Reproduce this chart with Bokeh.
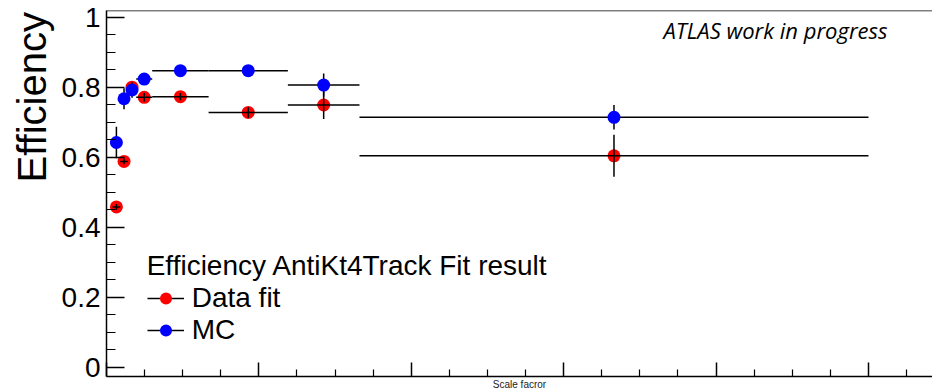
import numpy as np
from bokeh.plotting import figure
from bokeh.models import (Range1d, FixedTicker, CustomJSTickFormatter, Label,
                          Legend, LegendItem, Span, ColumnDataSource, Title)
from bokeh.embed import file_html
from bokeh.resources import INLINE

# ---- data ----
bin_lo = [4.0, 9.0, 14.0, 19.5, 30.0, 67.0, 119.0, 166.0]
bin_hi = [9.0, 14.0, 19.5, 30.0, 67.0, 119.0, 166.0, 500.0]
data_eff = [0.458, 0.588, 0.800, 0.771, 0.773, 0.728, 0.749, 0.604]
data_err = [0.008, 0.008, 0.010, 0.012, 0.010, 0.015, 0.040, 0.060]
mc_eff = [0.642, 0.767, 0.792, 0.823, 0.847, 0.847, 0.806, 0.714]
mc_err = [0.045, 0.030, 0.022, 0.010, 0.008, 0.008, 0.033, 0.035]

x_major = [0, 100, 200, 300, 400, 500]
x_minor = [25, 50, 75, 125, 150, 175, 225, 250, 275, 325, 350, 375, 425, 450, 475, 525]
y_major = [0.0, 0.2, 0.4, 0.6, 0.8, 1.0]
y_minor = [0.05, 0.1, 0.15, 0.25, 0.3, 0.35, 0.45, 0.5, 0.55, 0.65, 0.7, 0.75,
           0.85, 0.9, 0.95]

FONT = "Liberation Sans"
Y_TOP = 1.019
Y_BOT = -0.0264


def make_source(eff, err):
    lo = np.array(bin_lo)
    hi = np.array(bin_hi)
    e = np.array(eff)
    d = np.array(err)
    return ColumnDataSource(dict(x=(lo + hi) / 2, lo=lo, hi=hi, y=e,
                                 ylo=e - d, yhi=e + d))


src_data = make_source(data_eff, data_err)
src_mc = make_source(mc_eff, mc_err)

p = figure(width=932, height=392, x_range=Range1d(0, 542),
           y_range=Range1d(Y_BOT, Y_TOP), output_backend="svg",
           toolbar_location=None, min_border_left=106, min_border_right=0,
           min_border_top=10, min_border_bottom=14)
p.outline_line_color = None
p.xgrid.grid_line_color = None
p.ygrid.grid_line_color = None
p.background_fill_color = "white"
p.border_fill_color = "white"

# x axis (tick marks only, no numbers)
xa = p.xaxis[0]
xa.ticker = FixedTicker(ticks=x_major, minor_ticks=x_minor)
xa.formatter = CustomJSTickFormatter(code="return ''")
xa.major_label_text_font_size = "1px"
xa.major_label_standoff = 0
xa.major_tick_in = 14
xa.major_tick_out = 0
xa.minor_tick_in = 7
xa.minor_tick_out = 0
xa.axis_line_width = 1.5
xa.major_tick_line_width = 1.5
xa.minor_tick_line_width = 1.2
xa.axis_label = "Scale facror"
xa.axis_label_text_font = FONT
xa.axis_label_text_font_size = "10px"
xa.axis_label_text_font_style = "normal"
xa.axis_label_text_color = "#222222"
xa.axis_label_standoff = 2

# y axis
ya = p.yaxis[0]
ya.ticker = FixedTicker(ticks=y_major, minor_ticks=y_minor)
ya.formatter = CustomJSTickFormatter(code="return tick.toFixed(1).replace(/\\.0$/, '')")
ya.major_label_text_font = FONT
ya.major_label_text_font_size = "28px"
ya.major_label_text_color = "black"
ya.major_label_standoff = 6
ya.major_tick_in = 18
ya.major_tick_out = 0
ya.minor_tick_in = 9
ya.minor_tick_out = 0
ya.axis_line_width = 1.5
ya.major_tick_line_width = 1.5
ya.minor_tick_line_width = 1.2

# y-axis title, placed at the top end like ROOT does
p.add_layout(Title(text="Efficiency", align="right", offset=1.5, standoff=9,
                   text_font=FONT, text_font_size="40px",
                   text_font_style="normal", text_color="black"), "left")

# top frame line
p.add_layout(Span(location=Y_TOP, dimension="width", line_color="black",
                  line_width=1.5))

# data fit (red): markers first, error bars over them
red_sc = p.scatter("x", "y", source=src_data, size=13, fill_color="#ff0000",
                   line_color=None)
red_h = p.segment("lo", "y", "hi", "y", source=src_data, line_color="black",
                  line_width=1.5)
p.segment("x", "ylo", "x", "yhi", source=src_data, line_color="black",
          line_width=1.5)

# MC (blue): error bars first, markers on top
blue_h = p.segment("lo", "y", "hi", "y", source=src_mc, line_color="black",
                   line_width=1.5)
p.segment("x", "ylo", "x", "yhi", source=src_mc, line_color="black",
          line_width=1.5)
blue_sc = p.scatter("x", "y", source=src_mc, size=13, fill_color="#0000ff",
                    line_color=None)

legend = Legend(
    items=[LegendItem(label="Data fit", renderers=[red_h, red_sc]),
           LegendItem(label="MC", renderers=[blue_h, blue_sc])],
    title="Efficiency AntiKt4Track Fit result",
    location=(40.7, 30.5),
    title_text_font=FONT, title_text_font_size="28px",
    title_text_font_style="normal", title_text_color="black",
    title_standoff=0,
    label_text_font=FONT, label_text_font_size="28px",
    label_text_color="black",
    glyph_width=37, glyph_height=30, label_height=30, label_standoff=8,
    padding=0, margin=0, spacing=-3,
    border_line_color=None, background_fill_alpha=0,
)
p.add_layout(legend, "center")

p.add_layout(Label(x=557, y=346.3, x_units="screen", y_units="screen",
                   text="ATLAS work in progress", text_font="Open Sans",
                   text_font_style="italic", text_font_size="22px",
                   text_align="left", text_baseline="alphabetic",
                   text_color="black"))

open("out.html", "w").write(file_html(p, INLINE))
